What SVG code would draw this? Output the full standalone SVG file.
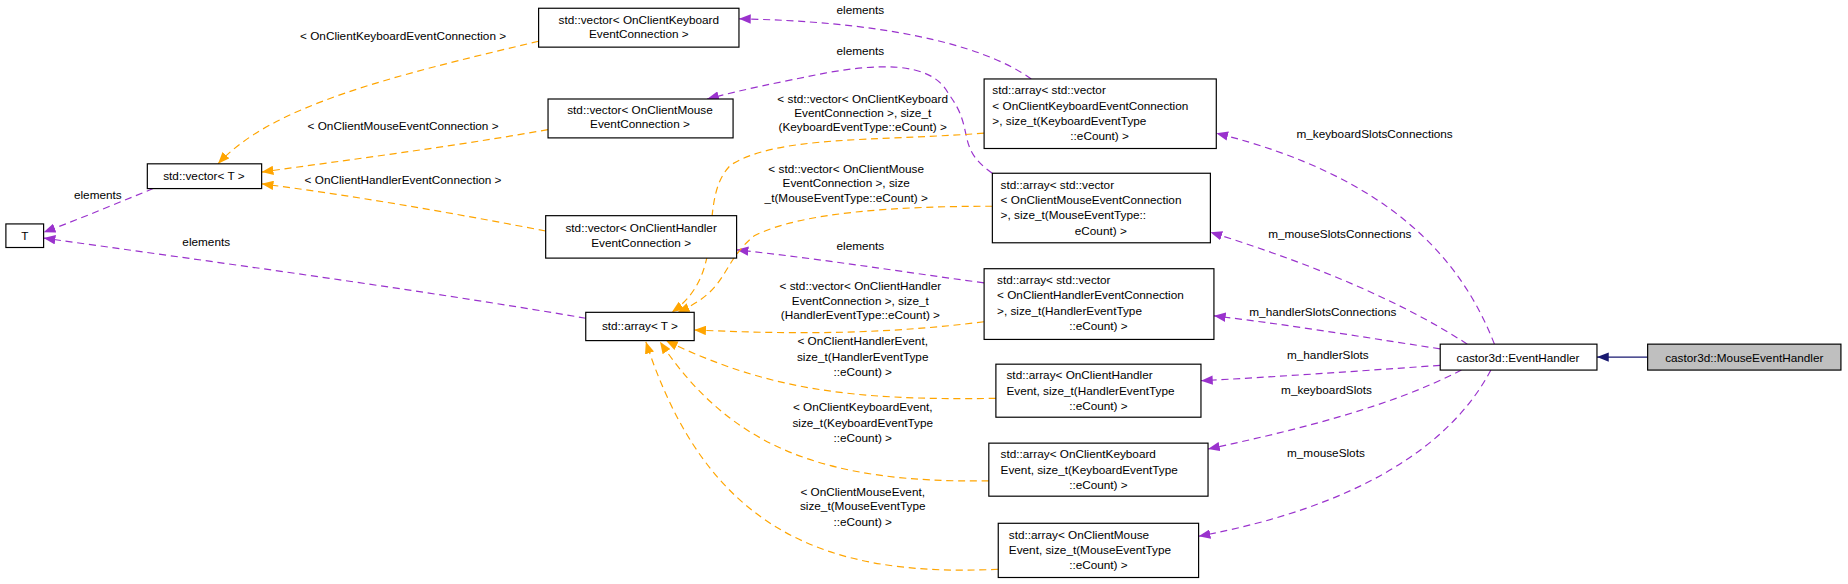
<svg xmlns="http://www.w3.org/2000/svg" width="1848" height="584" viewBox="0 0 1848 584">
<style>
text{font-family:"Liberation Sans",Arial,sans-serif;font-size:10px;fill:#000}
.n rect{fill:#fff;stroke:#000;stroke-width:1}
.p{fill:none;stroke:#9a32cd;stroke-dasharray:6,4}
.o{fill:none;stroke:orange;stroke-dasharray:6,4}
.b{fill:none;stroke:#191970}
.m{text-anchor:middle}
</style>
<defs>
<marker id="ap" markerWidth="10" markerHeight="8" refX="10" refY="4" orient="auto" markerUnits="userSpaceOnUse"><path d="M0,0L10,4L0,8z" fill="#9a32cd"/></marker>
<marker id="ao" markerWidth="10" markerHeight="8" refX="10" refY="4" orient="auto" markerUnits="userSpaceOnUse"><path d="M0,0L10,4L0,8z" fill="orange"/></marker>
<marker id="ab" markerWidth="10" markerHeight="8" refX="10" refY="4" orient="auto" markerUnits="userSpaceOnUse"><path d="M0,0L10,4L0,8z" fill="#191970"/></marker>
</defs>
<rect width="1848" height="584" fill="#fff"/>
<g transform="scale(1.17857)">
<g id="connectors">
<path class="b" d="M1398,303H1355" marker-end="url(#ab)"/>
<path class="p" d="M1268,292C1240,220 1180,150 1032,113" marker-end="url(#ap)"/>
<text x="1100" y="117">m_keyboardSlotsConnections</text>
<path class="p" d="M1245,292C1180,250 1100,220 1027,197" marker-end="url(#ap)"/>
<text x="1076" y="202">m_mouseSlotsConnections</text>
<path class="p" d="M1222,296C1150,285 1090,275 1030,268" marker-end="url(#ap)"/>
<text x="1060" y="268">m_handlerSlotsConnections</text>
<path class="p" d="M1222,310C1150,315 1080,320 1019,323" marker-end="url(#ap)"/>
<text x="1092" y="305">m_handlerSlots</text>
<path class="p" d="M1240,314C1180,345 1100,365 1025,381" marker-end="url(#ap)"/>
<text x="1087" y="334">m_keyboardSlots</text>
<path class="p" d="M1265,314C1230,380 1150,430 1017,455" marker-end="url(#ap)"/>
<text x="1092" y="388">m_mouseSlots</text>
<path class="p" d="M875,67C830,35 740,18 627,16" marker-end="url(#ap)"/>
<text x="730" y="12" class="m">elements</text>
<path class="p" d="M842,147C810,125 828,110 805,80C790,50 740,55 700,62C660,70 630,76 600,84" marker-end="url(#ap)"/>
<text x="730" y="47" class="m">elements</text>
<path class="p" d="M835,240C760,230 700,220 625,212" marker-end="url(#ap)"/>
<text x="730" y="212" class="m">elements</text>
<path class="p" d="M497,270C350,245 180,222 37,202" marker-end="url(#ap)"/>
<text x="175" y="209" class="m">elements</text>
<path class="p" d="M130,160C100,172 70,185 37,197" marker-end="url(#ap)"/>
<text x="83" y="169" class="m">elements</text>
<path class="o" d="M457,35C330,65 230,90 185,139" marker-end="url(#ao)"/>
<text x="342" y="34" class="m">&lt; OnClientKeyboardEventConnection &gt;</text>
<path class="o" d="M465,110C380,125 300,135 222,146" marker-end="url(#ao)"/>
<text x="342" y="110" class="m">&lt; OnClientMouseEventConnection &gt;</text>
<path class="o" d="M463,196C380,180 300,166 222,156" marker-end="url(#ao)"/>
<text x="342" y="156" class="m">&lt; OnClientHandlerEventConnection &gt;</text>
<path class="o" d="M835,113C740,120 660,115 620,140C590,170 620,230 570,265" marker-end="url(#ao)"/>
<text x="732" y="87" class="m">&lt; std::vector&lt; OnClientKeyboard</text>
<text x="732" y="99" class="m">EventConnection &gt;, size_t</text>
<text x="732" y="111" class="m">(KeyboardEventType::eCount) &gt;</text>
<path class="o" d="M842,175C760,175 680,180 640,200C610,225 620,245 575,265" marker-end="url(#ao)"/>
<text x="718" y="147" class="m">&lt; std::vector&lt; OnClientMouse</text>
<text x="718" y="159" class="m">EventConnection &gt;, size</text>
<text x="718" y="171" class="m">_t(MouseEventType::eCount) &gt;</text>
<path class="o" d="M835,273C740,285 660,283 589,280" marker-end="url(#ao)"/>
<text x="730" y="246" class="m">&lt; std::vector&lt; OnClientHandler</text>
<text x="730" y="259" class="m">EventConnection &gt;, size_t</text>
<text x="730" y="271" class="m">(HandlerEventType::eCount) &gt;</text>
<path class="o" d="M845,338C720,340 650,330 565,289" marker-end="url(#ao)"/>
<text x="732" y="293" class="m">&lt; OnClientHandlerEvent,</text>
<text x="732" y="306" class="m">size_t(HandlerEventType</text>
<text x="732" y="319" class="m">::eCount) &gt;</text>
<path class="o" d="M839,408C700,410 620,380 560,290" marker-end="url(#ao)"/>
<text x="732" y="349" class="m">&lt; OnClientKeyboardEvent,</text>
<text x="732" y="362" class="m">size_t(KeyboardEventType</text>
<text x="732" y="375" class="m">::eCount) &gt;</text>
<path class="o" d="M847,483C700,490 600,450 548,290" marker-end="url(#ao)"/>
<text x="732" y="421" class="m">&lt; OnClientMouseEvent,</text>
<text x="732" y="433" class="m">size_t(MouseEventType</text>
<text x="732" y="446" class="m">::eCount) &gt;</text>
</g>
<g id="T" class="n"><rect x="5" y="190" width="32" height="20"/><text x="21" y="204" class="m">T</text></g>
<g id="vectorT" class="n"><rect x="125" y="139" width="97" height="21"/><text x="173" y="153" class="m">std::vector&lt; T &gt;</text></g>
<g id="vecKeyboard" class="n"><rect x="457" y="7" width="170" height="33"/><text x="542" y="20" class="m">std::vector&lt; OnClientKeyboard</text><text x="542" y="32" class="m">EventConnection &gt;</text></g>
<g id="vecMouse" class="n"><rect x="465" y="84" width="157" height="33"/><text x="543" y="97" class="m">std::vector&lt; OnClientMouse</text><text x="543" y="109" class="m">EventConnection &gt;</text></g>
<g id="vecHandler" class="n"><rect x="463" y="183" width="162" height="36"/><text x="544" y="197" class="m">std::vector&lt; OnClientHandler</text><text x="544" y="210" class="m">EventConnection &gt;</text></g>
<g id="arrayT" class="n"><rect x="497" y="265" width="92" height="24"/><text x="543" y="280" class="m">std::array&lt; T &gt;</text></g>
<g id="arrVecKeyboard" class="n"><rect x="835" y="67" width="197" height="59"/><text x="842" y="80">std::array&lt; std::vector</text><text x="842" y="93">&lt; OnClientKeyboardEventConnection</text><text x="842" y="106"> &gt;, size_t(KeyboardEventType</text><text x="933" y="119" class="m">::eCount) &gt;</text></g>
<g id="arrVecMouse" class="n"><rect x="842" y="147" width="185" height="59"/><text x="849" y="160">std::array&lt; std::vector</text><text x="849" y="173">&lt; OnClientMouseEventConnection</text><text x="849" y="186"> &gt;, size_t(MouseEventType::</text><text x="934" y="199" class="m">eCount) &gt;</text></g>
<g id="arrVecHandler" class="n"><rect x="835" y="228" width="195" height="60"/><text x="846" y="241">std::array&lt; std::vector</text><text x="846" y="254">&lt; OnClientHandlerEventConnection</text><text x="846" y="267"> &gt;, size_t(HandlerEventType</text><text x="932" y="280" class="m">::eCount) &gt;</text></g>
<g id="arrHandler" class="n"><rect x="845" y="309" width="174" height="45"/><text x="854" y="322">std::array&lt; OnClientHandler</text><text x="854" y="335">Event, size_t(HandlerEventType</text><text x="932" y="348" class="m">::eCount) &gt;</text></g>
<g id="arrKeyboard" class="n"><rect x="839" y="376" width="186" height="45"/><text x="849" y="389">std::array&lt; OnClientKeyboard</text><text x="849" y="402">Event, size_t(KeyboardEventType</text><text x="932" y="415" class="m">::eCount) &gt;</text></g>
<g id="arrMouse" class="n"><rect x="847" y="444" width="170" height="46"/><text x="856" y="457">std::array&lt; OnClientMouse</text><text x="856" y="470">Event, size_t(MouseEventType</text><text x="932" y="483" class="m">::eCount) &gt;</text></g>
<g id="EventHandler" class="n"><rect x="1222" y="292" width="133" height="22"/><text x="1288" y="307" class="m">castor3d::EventHandler</text></g>
<g id="MouseEventHandler"><rect x="1398" y="292" width="164" height="22" fill="#bfbfbf" stroke="#000"/><text x="1480" y="307" class="m">castor3d::MouseEventHandler</text></g>
</g>
</svg>
